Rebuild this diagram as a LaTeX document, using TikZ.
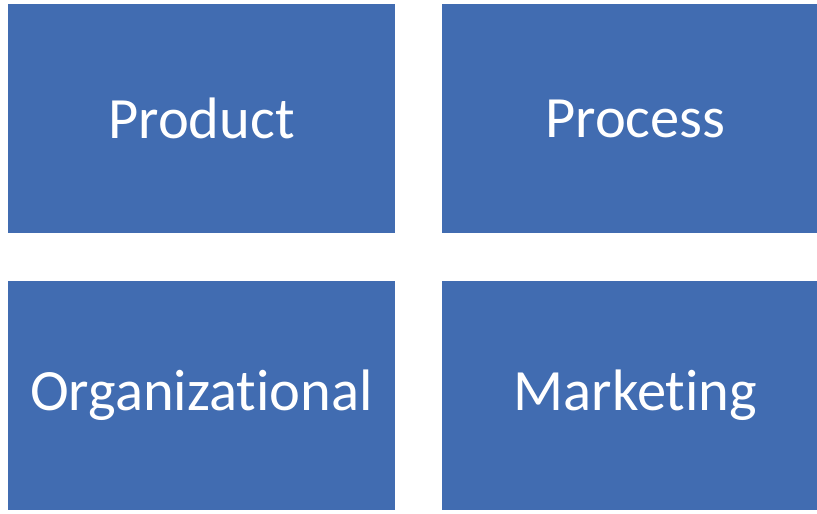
\documentclass[tikz,border=0pt]{standalone}
\usepackage{fontspec}
\setmainfont[Ligatures=NoCommon]{Carlito}
\usetikzlibrary{positioning}
\definecolor{boxblue}{RGB}{65,108,177}
\tikzstyle{box}=[rectangle,fill=boxblue,text=white,inner sep=0pt,
minimum width=387pt,minimum height=229pt,font=\fontsize{58.5}{60}\selectfont]

\begin{document}
\begin{tikzpicture}[x=1pt, y=1pt, node distance=277pt and 434pt, on grid]
  \useasboundingbox (0,0) rectangle (817,-514);

  \node[box] at (201.5,-118.5) (product) {Product};
  \node[box, right=of product] (process) {Process};
  \node[box, below=of product] (org) {Organizational};
  \node[box, below=of process] (marketing) {Marketing};
\end{tikzpicture}
\end{document}
